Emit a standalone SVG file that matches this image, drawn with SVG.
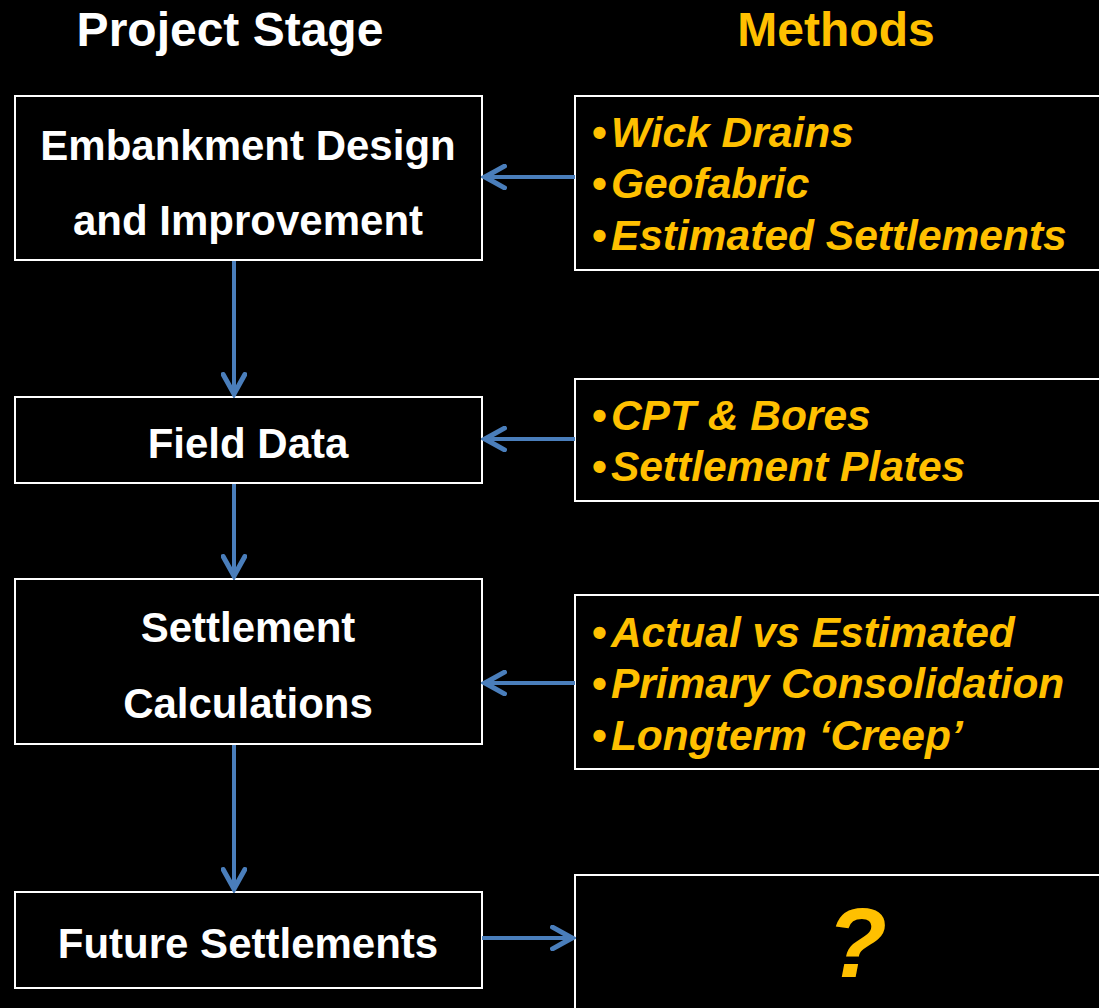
<svg xmlns="http://www.w3.org/2000/svg" width="1099" height="1008" viewBox="0 0 1099 1008">
<defs>
<style>
.box{fill:#000;stroke:#fff;stroke-width:2}
.stage{font-family:"Liberation Sans",Arial,sans-serif;font-weight:bold;font-size:42px;fill:#fff;text-anchor:middle}
.meth{font-family:"Liberation Sans",Arial,sans-serif;font-weight:bold;font-style:italic;font-size:42.5px;fill:#FFC000}
.bul{font-style:normal}
.head{font-family:"Liberation Sans",Arial,sans-serif;font-weight:bold;font-size:48px;text-anchor:middle}
.conn{stroke:#4A7EBB;stroke-width:4;fill:none}
</style>
<marker id="ah" viewBox="0 0 12 12" refX="10" refY="6" markerWidth="6.5" markerHeight="6.5" markerUnits="strokeWidth" orient="auto">
<path d="M1,1 L10,6 L1,11" fill="none" stroke="#4A7EBB" stroke-width="2.3" stroke-linecap="round" stroke-linejoin="miter"/>
</marker>
</defs>
<rect width="1099" height="1008" fill="#000"/>
<text class="head" x="230" y="46" fill="#fff">Project Stage</text>
<text class="head" x="836" y="46" fill="#FFC000">Methods</text>

<g id="stage1"><rect class="box" x="15" y="96" width="467" height="164"/>
<text class="stage" x="248" y="160">Embankment Design</text>
<text class="stage" x="248" y="235">and Improvement</text></g>
<g id="stage2"><rect class="box" x="15" y="397" width="467" height="86"/>
<text class="stage" x="248" y="458">Field Data</text></g>
<g id="stage3"><rect class="box" x="15" y="579" width="467" height="165"/>
<text class="stage" x="248" y="642">Settlement</text>
<text class="stage" x="248" y="718">Calculations</text></g>
<g id="stage4"><rect class="box" x="15" y="892" width="467" height="96"/>
<text class="stage" x="248" y="958">Future Settlements</text></g>

<g id="method1"><rect class="box" x="575" y="96" width="530" height="174"/>
<text class="meth" x="592" y="147"><tspan class="bul">•</tspan><tspan dx="4">Wick Drains</tspan></text>
<text class="meth" x="592" y="198"><tspan class="bul">•</tspan><tspan dx="4">Geofabric</tspan></text>
<text class="meth" x="592" y="250"><tspan class="bul">•</tspan><tspan dx="4">Estimated Settlements</tspan></text></g>
<g id="method2"><rect class="box" x="575" y="379" width="530" height="122"/>
<text class="meth" x="592" y="430"><tspan class="bul">•</tspan><tspan dx="4">CPT &amp; Bores</tspan></text>
<text class="meth" x="592" y="481"><tspan class="bul">•</tspan><tspan dx="4">Settlement Plates</tspan></text></g>
<g id="method3"><rect class="box" x="575" y="595" width="530" height="174"/>
<text class="meth" x="592" y="647"><tspan class="bul">•</tspan><tspan dx="4">Actual vs Estimated</tspan></text>
<text class="meth" x="592" y="698"><tspan class="bul">•</tspan><tspan dx="4">Primary Consolidation</tspan></text>
<text class="meth" x="592" y="750"><tspan class="bul">•</tspan><tspan dx="4">Longterm ‘Creep’</tspan></text></g>
<g id="method4"><rect class="box" x="575" y="875" width="530" height="140"/>
<text class="meth" x="857" y="977" style="font-size:98px;text-anchor:middle">?</text></g>

<g id="connectors">
<line class="conn" x1="234" y1="261" x2="234" y2="394" marker-end="url(#ah)"/>
<line class="conn" x1="234" y1="484" x2="234" y2="576" marker-end="url(#ah)"/>
<line class="conn" x1="234" y1="745" x2="234" y2="889" marker-end="url(#ah)"/>
<line class="conn" x1="575" y1="177" x2="485" y2="177" marker-end="url(#ah)"/>
<line class="conn" x1="575" y1="439" x2="485" y2="439" marker-end="url(#ah)"/>
<line class="conn" x1="575" y1="683" x2="485" y2="683" marker-end="url(#ah)"/>
<line class="conn" x1="482" y1="938" x2="572" y2="938" marker-end="url(#ah)"/>
</g>
</svg>
